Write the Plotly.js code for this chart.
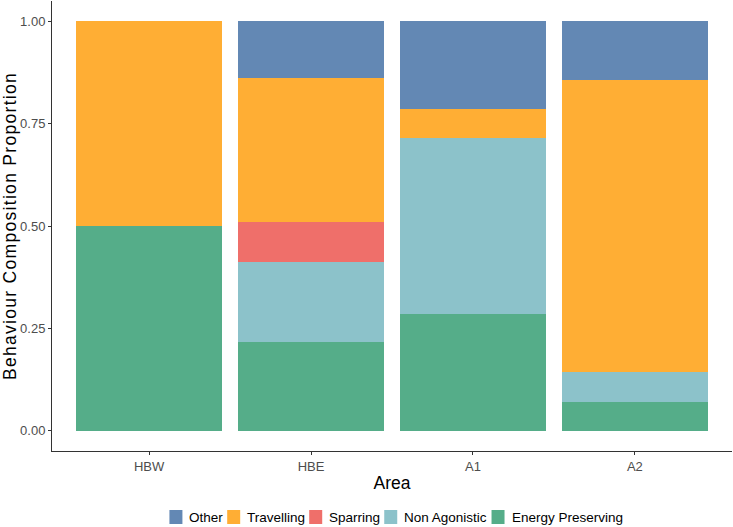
<!DOCTYPE html>
<html>
<head>
<meta charset="utf-8">
<script src="https://cdn.plot.ly/plotly-3.0.1.min.js"></script>
<style>
  html, body { margin: 0; padding: 0; background: #ffffff; }
  #chart { width: 733px; height: 527px; }
  /* spread-out lettering for the vertical axis title */
  #chart .ytitle { letter-spacing: 1.3px; }
</style>
</head>
<body>
<div id="chart"></div>
<script>
// Areas on the x axis
const areas = ['HBW', 'HBE', 'A1', 'A2'];

// Proportion of each behaviour per area (stacked bottom to top)
const energyPreserving = [0.500, 0.216, 0.286, 0.071];
const nonAgonistic     = [0.000, 0.196, 0.429, 0.071];
const sparring         = [0.000, 0.098, 0.000, 0.000];
const travelling       = [0.500, 0.353, 0.071, 0.715];
const other            = [0.000, 0.137, 0.214, 0.143];

const yTicks = [0, 0.25, 0.5, 0.75, 1];
const yTickLabels = ['0.00', '0.25', '0.50', '0.75', '1.00'];

// Legend entries, in the order they are listed under the chart
const legendNames = ['Other', 'Travelling', 'Sparring', 'Non Agonistic', 'Energy Preserving'];

const colors = {
  'Energy Preserving': '#55ad89',
  'Non Agonistic': '#8cc2ca',
  'Sparring': '#ef6f6a',
  'Travelling': '#ffae34',
  'Other': '#6388b4'
};

const series = [
  { name: 'Energy Preserving', values: energyPreserving },
  { name: 'Non Agonistic',     values: nonAgonistic },
  { name: 'Sparring',          values: sparring },
  { name: 'Travelling',        values: travelling },
  { name: 'Other',             values: other }
];

const traces = series.map(s => ({
  type: 'bar',
  name: s.name,
  x: areas,
  y: s.values,
  marker: { color: colors[s.name], line: { width: 0 } },
  width: 0.9,
  showlegend: false,
  hovertemplate: '%{x}: %{y:.2f}<extra>' + s.name + '</extra>'
}));

const baseFont = '"Liberation Sans", Arial, sans-serif';

// Page geometry
const W = 733, H = 527;
const margin = { l: 52, r: 1, t: 1, b: 76 };
const plotW = W - margin.l - margin.r;
const plotH = H - margin.t - margin.b;
const px2x = px => (px - margin.l) / plotW;
const py2y = py => (H - margin.b - py) / plotH;

// Hand-built legend row: coloured key squares followed by labels
const legendFontSize = 13.5;
const keyW = 13, keyH = 14;
const keyTextGap = 5;
const itemGap = 6;
const legendCenterY = 517;
const measure = document.createElement('canvas').getContext('2d');
measure.font = legendFontSize + 'px ' + baseFont;
const textWidths = legendNames.map(n => measure.measureText(n).width);
const totalW = textWidths.reduce((a, w) => a + keyW + keyTextGap + w, 0) + itemGap * (legendNames.length - 1);
let cursor = (margin.l + plotW / 2) - totalW / 2 + 3;

const shapes = [];
const annotations = [];
legendNames.forEach((name, i) => {
  shapes.push({
    type: 'rect', xref: 'paper', yref: 'paper', layer: 'above',
    x0: px2x(cursor), x1: px2x(cursor + keyW),
    y0: py2y(legendCenterY + keyH / 2), y1: py2y(legendCenterY - keyH / 2),
    fillcolor: colors[name], line: { width: 0 }
  });
  annotations.push({
    xref: 'paper', yref: 'paper',
    x: px2x(cursor + keyW + keyTextGap), y: py2y(legendCenterY),
    xanchor: 'left', yanchor: 'middle',
    text: name, showarrow: false,
    font: { family: baseFont, size: legendFontSize, color: '#000000' }
  });
  cursor += keyW + keyTextGap + textWidths[i] + itemGap;
});

const layout = {
  width: W,
  height: H,
  margin: margin,
  paper_bgcolor: '#ffffff',
  plot_bgcolor: '#ffffff',
  barmode: 'stack',
  bargap: 0.1,
  font: { family: baseFont, color: '#000000' },
  showlegend: false,
  shapes: shapes,
  annotations: annotations,
  xaxis: {
    type: 'category',
    range: [-0.6, 3.6],
    showline: true,
    linecolor: '#333333',
    linewidth: 1,
    ticks: 'outside',
    ticklen: 3,
    tickcolor: '#333333',
    tickfont: { size: 13, color: '#4d4d4d' },
    showgrid: false,
    zeroline: false,
    automargin: false,
    title: { text: 'Area', font: { size: 17.5, color: '#000000' }, standoff: 4 }
  },
  yaxis: {
    range: [-0.05, 1.05],
    tickvals: yTicks,
    ticktext: yTickLabels,
    showline: true,
    linecolor: '#333333',
    linewidth: 1,
    ticks: 'outside',
    ticklen: 3,
    tickcolor: '#333333',
    tickfont: { size: 13, color: '#4d4d4d' },
    showgrid: false,
    zeroline: false,
    automargin: false,
    title: { text: 'Behaviour Composition Proportion', font: { size: 17.5, color: '#000000' }, standoff: 8 }
  }
};

Plotly.newPlot('chart', traces, layout, { displayModeBar: false });
</script>
</body>
</html>
